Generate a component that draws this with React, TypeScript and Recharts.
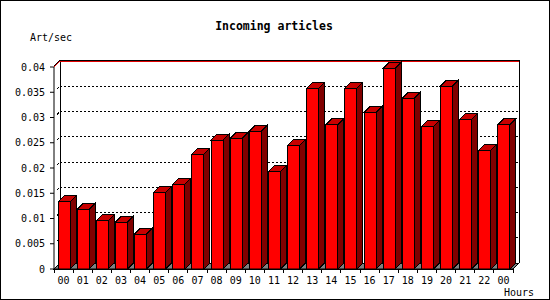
import { BarChart, Bar, XAxis, YAxis, CartesianGrid } from 'recharts'

const HOURS = ['00', '01', '02', '03', '04', '05', '06', '07', '08', '09', '10', '11',
  '12', '13', '14', '15', '16', '17', '18', '19', '20', '21', '22', '00']
const RATES = [0.0133, 0.0118, 0.0096, 0.0093, 0.0069, 0.0152, 0.0168, 0.0227, 0.0255, 0.0259,
  0.0273, 0.0193, 0.0245, 0.0358, 0.0286, 0.0358, 0.0310, 0.0397, 0.0338, 0.0282,
  0.0362, 0.0296, 0.0235, 0.0286]
const Y_TICKS = [0, 0.005, 0.01, 0.015, 0.02, 0.025, 0.03, 0.035, 0.04]

const W = 550
const H = 300
const MARGIN = { top: 67, right: 37, bottom: 0, left: 0 }
const Y_W = 54
const X_H = 31
const DEPTH = 6
const BAND = (W - MARGIN.left - MARGIN.right - Y_W) / HOURS.length
const FONT = '"DejaVu Sans Mono", "Liberation Mono", monospace'

const data = HOURS.map((h, i) => ({ i, hour: h, rate: RATES[i] }))

// back wall, floor and dotted lines, drawn once per horizontal grid line
function WallLine(p: any) {
  const { x1, x2, y1, x, y, width, height, index } = p
  const top = y
  const floor = y + height
  const left = x
  const right = x + width
  const d = DEPTH
  const edge = Math.abs(y1 - top) < 0.5 || Math.abs(y1 - floor) < 0.5
  return (
    <g key={p.key} shapeRendering="crispEdges">
      {index === 0 && (
        <g>
          <polygon
            points={`${left},${floor} ${left + d},${floor - d} ${right + d},${floor - d} ${right},${floor}`}
            fill="#808080" stroke="#000" strokeWidth={1}
          />
          <line x1={left + d} y1={top - d} x2={left + d} y2={floor - d} stroke="#000" />
          <line x1={right + d} y1={top - d - 1} x2={right + d} y2={floor - d} stroke="#000" />
          <line x1={left + d} y1={top - d - 1} x2={right + d} y2={top - d - 1} stroke="#000" />
          <line x1={left + d} y1={top - d} x2={right + d} y2={top - d} stroke="#e00000" />
          <line x1={left} y1={top - 1} x2={left + d} y2={top - d - 1} stroke="#000" />
          <line x1={left} y1={top} x2={left + d} y2={top - d} stroke="#e00000" />
        </g>
      )}
      {!edge && (
        <g>
          <line x1={x1 + d} y1={y1 - d} x2={x2 + d} y2={y1 - d} stroke="#000" strokeDasharray="2 2" />
          <line x1={x1 + 3} y1={y1 - 3} x2={x1 + 5} y2={y1 - 5} stroke="#000" />
        </g>
      )}
    </g>
  )
}

function Box3D(p: any) {
  const { x, y, width, height } = p
  if (!height || height <= 0) return null
  const d = DEPTH
  const r = x + width
  const b = y + height
  return (
    <g shapeRendering="crispEdges" stroke="#000" strokeWidth={1}>
      <polygon points={`${r},${y} ${r + d},${y - d} ${r + d},${b - d} ${r},${b}`} fill="#800000" />
      <polygon points={`${x},${y} ${x + d},${y - d} ${r + d},${y - d} ${r},${y}`} fill="#c80000" />
      <rect x={x} y={y} width={width} height={height} fill="#ff0000" />
    </g>
  )
}

function HourTick(p: any) {
  const { x, y, index } = p
  const axisY = y - 8
  return (
    <g>
      <line x1={x - BAND / 2} y1={axisY} x2={x - BAND / 2} y2={axisY + 4} stroke="#000" shapeRendering="crispEdges" />
      {index === HOURS.length - 1 && (
        <line x1={x + BAND / 2} y1={axisY} x2={x + BAND / 2} y2={axisY + 4} stroke="#000" shapeRendering="crispEdges" />
      )}
      <text x={x} y={y + 7} textAnchor="middle" fontFamily={FONT} fontSize={10} fill="#000">
        {HOURS[index]}
      </text>
    </g>
  )
}

export default function App() {
  return (
    <div style={{ position: 'absolute', left: 0, top: 0, width: W, height: H, background: '#fff' }}>
      <BarChart width={W} height={H} data={data} margin={MARGIN} barSize={12}>
        <rect x={0.5} y={0.5} width={W - 1} height={H - 1} fill="none" stroke="#000" />
        <text x={274} y={30} textAnchor="middle" fontFamily={FONT} fontSize={11.5} fontWeight="bold" fill="#000">
          Incoming articles
        </text>
        <text x={30} y={41} fontFamily={FONT} fontSize={10} fill="#000">Art/sec</text>
        <text x={504} y={296} fontFamily={FONT} fontSize={10} fill="#000">Hours</text>
        <CartesianGrid horizontal={WallLine} vertical={false} />
        <XAxis
          dataKey="i"
          type="category"
          interval={0}
          height={X_H}
          tickSize={4}
          tickMargin={4}
          tickLine={false}
          tick={HourTick}
          axisLine={{ stroke: '#000' }}
        />
        <YAxis
          width={Y_W}
          domain={[0, 0.04]}
          ticks={Y_TICKS}
          interval={0}
          tickSize={4}
          tickMargin={5}
          tickFormatter={v => String(v)}
          tick={{ fill: '#000', fontSize: 10, fontFamily: FONT }}
          tickLine={{ stroke: '#000' }}
          axisLine={{ stroke: '#000' }}
        />
        <Bar dataKey="rate" shape={Box3D} isAnimationActive={false} />
      </BarChart>
    </div>
  )
}
